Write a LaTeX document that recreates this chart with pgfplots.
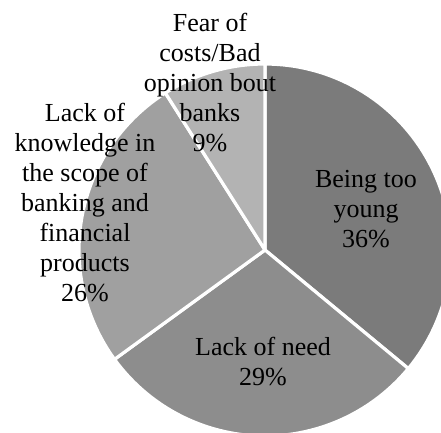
\documentclass[border=0pt]{standalone}
\usepackage{pgfplots}
\pgfplotsset{compat=1.18}
\usepackage{fontspec}
\setmainfont{Liberation Serif}
\definecolor{cA}{RGB}{123,123,123}
\definecolor{cB}{RGB}{141,141,141}
\definecolor{cC}{RGB}{160,160,160}
\definecolor{cD}{RGB}{179,179,179}
% shares (percent)
\def\pA{36}\def\pB{29}\def\pC{26}\def\pD{9}
\def\cx{265}\def\cy{182}\def\rr{186}
\begin{document}
\begin{tikzpicture}
\pgfmathsetmacro\aA{90}
\pgfmathsetmacro\aB{90-3.6*\pA}
\pgfmathsetmacro\aC{\aB-3.6*\pB}
\pgfmathsetmacro\aD{\aC-3.6*\pC}
\pgfmathsetmacro\aE{\aD-3.6*\pD}
\begin{axis}[
  width=441pt, height=432pt, scale only axis,
  xmin=0, xmax=441, ymin=0, ymax=432,
  hide axis, clip=true,
  every axis plot/.append style={draw=white, line width=3.2pt, line join=round, samples=90, variable=\t},
  font=\fontsize{26}{30}\selectfont,
]
\addplot[fill=cA, domain=\aB:\aA] ({\cx+\rr*cos(\t)},{\cy+\rr*sin(\t)}) -- (axis cs:\cx,\cy) -- cycle;
\addplot[fill=cB, domain=\aC:\aB] ({\cx+\rr*cos(\t)},{\cy+\rr*sin(\t)}) -- (axis cs:\cx,\cy) -- cycle;
\addplot[fill=cC, domain=\aD:\aC] ({\cx+\rr*cos(\t)},{\cy+\rr*sin(\t)}) -- (axis cs:\cx,\cy) -- cycle;
\addplot[fill=cD, domain=\aE:\aD] ({\cx+\rr*cos(\t)},{\cy+\rr*sin(\t)}) -- (axis cs:\cx,\cy) -- cycle;
\node[align=center] at (axis cs:366,223) {Being too\\young\\36\%};
\node[align=center] at (axis cs:263,70) {Lack of need\\29\%};
\node[align=center] at (axis cs:85,229) {Lack of\\knowledge in\\the scope of\\banking and\\financial\\products\\26\%};
\node[align=center] at (axis cs:210,349) {Fear of\\costs/Bad\\opinion bout\\banks\\9\%};
\end{axis}
\pgfresetboundingbox
\useasboundingbox (current axis.south west) rectangle (current axis.north east);
\end{tikzpicture}
\end{document}
